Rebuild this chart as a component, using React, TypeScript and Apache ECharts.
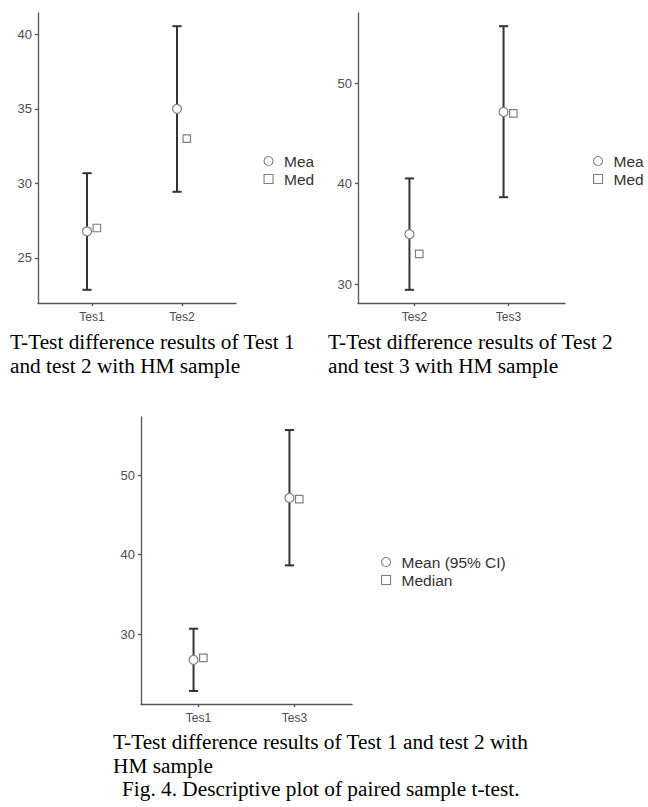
import React, { useEffect, useRef } from "react";
import * as echarts from "echarts";

// ---- Data ----
const panel1Categories = ["Tes1", "Tes2"];
const panel1Mean = [26.77, 35.0];
const panel1Lower = [22.85, 29.43];
const panel1Upper = [30.68, 40.55];
const panel1Median = [27.0, 33.0];
const panel1Ticks = [25, 30, 35, 40];

const panel2Categories = ["Tes2", "Tes3"];
const panel2Mean = [34.97, 47.14];
const panel2Lower = [29.43, 38.65];
const panel2Upper = [40.52, 55.68];
const panel2Median = [33.0, 47.0];
const panel2Ticks = [30, 40, 50];

const panel3Categories = ["Tes1", "Tes3"];
const panel3Mean = [26.77, 47.14];
const panel3Lower = [22.85, 38.65];
const panel3Upper = [30.68, 55.68];
const panel3Median = [27.0, 47.0];
const panel3Ticks = [30, 40, 50];

const legendNames = ["Mean (95% CI)", "Median"];

const caption1 = ["T-Test difference results of Test 1", "and test 2 with HM sample"];
const caption2 = ["T-Test difference results of Test 2", "and test 3 with HM sample"];
const caption3 = ["T-Test difference results of Test 1 and test 2 with", "HM sample"];
const figureCaption = "Fig. 4. Descriptive plot of paired sample t-test.";

// ---- Styles ----
const SANS = "'Liberation Sans', Arial, sans-serif";
const SERIF = "'Liberation Serif', 'Times New Roman', serif";
const AXIS_COLOR = "#555555";
const LABEL_COLOR = "#4d4d4d";
const BAR_COLOR = "#333333";
const MARK_STROKE = "#808080";
const MEAN_OFFSET = -5;
const MEDIAN_OFFSET = 4.8;

type Panel = {
  cats: string[];
  mean: number[];
  lower: number[];
  upper: number[];
  median: number[];
  ticks: number[];
  grid: { left: number; top: number; width: number; height: number };
  legend: { left: number; top: number; truncate?: number };
};

const panels: Panel[] = [
  {
    cats: panel1Categories, mean: panel1Mean, lower: panel1Lower, upper: panel1Upper,
    median: panel1Median, ticks: panel1Ticks,
    grid: { left: 38, top: 13, width: 198, height: 290 },
    legend: { left: 263.5, top: 153, truncate: 34 },
  },
  {
    cats: panel2Categories, mean: panel2Mean, lower: panel2Lower, upper: panel2Upper,
    median: panel2Median, ticks: panel2Ticks,
    grid: { left: 358, top: 13, width: 207, height: 290 },
    legend: { left: 593, top: 153, truncate: 34 },
  },
  {
    cats: panel3Categories, mean: panel3Mean, lower: panel3Lower, upper: panel3Upper,
    median: panel3Median, ticks: panel3Ticks,
    grid: { left: 141, top: 417, width: 211, height: 287 },
    legend: { left: 381, top: 554 },
  },
];

function yRange(p: Panel) {
  const lo = Math.min(...p.lower, ...p.median, ...p.mean);
  const hi = Math.max(...p.upper, ...p.median, ...p.mean);
  const pad = (hi - lo) * 0.05;
  return [lo - pad, hi + pad];
}

export default function App() {
  const ref = useRef<HTMLDivElement>(null);

  useEffect(() => {
    if (!ref.current) return;
    const chart = echarts.init(ref.current, undefined, { renderer: "svg" });

    const grid: any[] = [];
    const xAxis: any[] = [];
    const yAxis: any[] = [];
    const series: any[] = [];
    const legend: any[] = [];

    panels.forEach((p, i) => {
      grid.push({ ...p.grid, containLabel: false });
      const positions = p.cats.map((_, k) => k + 1);
      xAxis.push({
        type: "value",
        gridIndex: i,
        min: 0.4,
        max: p.cats.length + 0.6,
        splitLine: { show: false },
        axisLine: { show: true, lineStyle: { color: AXIS_COLOR, width: 1.3 } },
        axisTick: { show: true, customValues: positions, length: 3, lineStyle: { color: AXIS_COLOR, width: 1.3 } },
        axisLabel: {
          customValues: positions,
          formatter: (v: number) => p.cats[Math.round(v) - 1] ?? "",
          fontFamily: SANS,
          fontSize: 12,
          color: LABEL_COLOR,
          margin: 8,
        },
      });
      const [ymin, ymax] = yRange(p);
      yAxis.push({
        type: "value",
        gridIndex: i,
        min: ymin,
        max: ymax,
        splitLine: { show: false },
        axisLine: { show: true, lineStyle: { color: AXIS_COLOR, width: 1.3 } },
        axisTick: { show: true, customValues: p.ticks, length: 3, lineStyle: { color: AXIS_COLOR, width: 1.3 } },
        axisLabel: {
          customValues: p.ticks,
          fontFamily: SANS,
          fontSize: 13,
          color: LABEL_COLOR,
          margin: 6,
        },
      });

      series.push({
        type: "custom",
        name: "CI",
        xAxisIndex: i,
        yAxisIndex: i,
        z: 2,
        silent: true,
        encode: { x: 0, y: [1, 2] },
        data: p.cats.map((_, k) => [k + 1, p.lower[k], p.upper[k]]),
        renderItem: (_params: any, api: any) => {
          const x = api.value(0);
          const lo = api.coord([x, api.value(1)]);
          const hi = api.coord([x, api.value(2)]);
          const cx = lo[0] + MEAN_OFFSET;
          const cap = 4.6;
          const style = { stroke: BAR_COLOR, lineWidth: 2, fill: "none" };
          return {
            type: "group",
            children: [
              { type: "line", shape: { x1: cx, y1: lo[1], x2: cx, y2: hi[1] }, style },
              { type: "line", shape: { x1: cx - cap, y1: lo[1], x2: cx + cap, y2: lo[1] }, style },
              { type: "line", shape: { x1: cx - cap, y1: hi[1], x2: cx + cap, y2: hi[1] }, style },
            ],
          };
        },
      });
      series.push({
        type: "scatter",
        name: legendNames[0],
        xAxisIndex: i,
        yAxisIndex: i,
        z: 3,
        symbol: "circle",
        symbolSize: 9,
        symbolOffset: [MEAN_OFFSET, 0],
        itemStyle: { color: "#ffffff", borderColor: MARK_STROKE, borderWidth: 1.2, opacity: 1 },
        data: p.cats.map((_, k) => [k + 1, p.mean[k]]),
      });
      series.push({
        type: "scatter",
        name: legendNames[1],
        xAxisIndex: i,
        yAxisIndex: i,
        z: 3,
        symbol: "rect",
        symbolSize: 7.5,
        symbolOffset: [MEDIAN_OFFSET, 0],
        itemStyle: { color: "#ffffff", borderColor: MARK_STROKE, borderWidth: 1.2, opacity: 1 },
        data: p.cats.map((_, k) => [k + 1, p.median[k]]),
      });

      const textStyle: any = {
        fontFamily: SANS,
        fontSize: 15.5,
        color: "#333333",
        padding: [0, 0, 0, 6],
      };
      if (p.legend.truncate) {
        textStyle.width = p.legend.truncate;
        textStyle.overflow = "truncate";
        textStyle.ellipsis = "";
      }
      legend.push({
        orient: "vertical",
        left: p.legend.left,
        top: p.legend.top,
        padding: 0,
        itemWidth: 9,
        itemHeight: 9,
        itemGap: 2,
        selectedMode: false,
        itemStyle: { color: "#ffffff", borderColor: MARK_STROKE, borderWidth: 1.1 },
        textStyle,
        data: [
          { name: legendNames[0], icon: "circle" },
          { name: legendNames[1], icon: "rect" },
        ],
      });
    });

    const capStyle = (text: string) => ({
      text,
      font: `21.3px ${SERIF}`,
      fill: "#000000",
      verticalAlign: "middle",
      align: "left",
    });

    const graphic: any[] = [
      { type: "text", x: 10, y: 342, style: capStyle(caption1[0]) },
      { type: "text", x: 10, y: 365.5, style: capStyle(caption1[1]) },
      { type: "text", x: 328, y: 342, style: capStyle(caption2[0]) },
      { type: "text", x: 328, y: 365.5, style: capStyle(caption2[1]) },
      { type: "text", x: 113, y: 742, style: capStyle(caption3[0]) },
      { type: "text", x: 113, y: 765.5, style: capStyle(caption3[1]) },
      { type: "text", x: 122, y: 789, style: capStyle(figureCaption) },
    ];

    chart.setOption({
      animation: false,
      backgroundColor: "#ffffff",
      grid,
      xAxis,
      yAxis,
      series,
      legend,
      graphic,
    });

    return () => chart.dispose();
  }, []);

  return (
    <div
      ref={ref}
      style={{ position: "absolute", left: 0, top: 0, width: 648, height: 807 }}
    />
  );
}
